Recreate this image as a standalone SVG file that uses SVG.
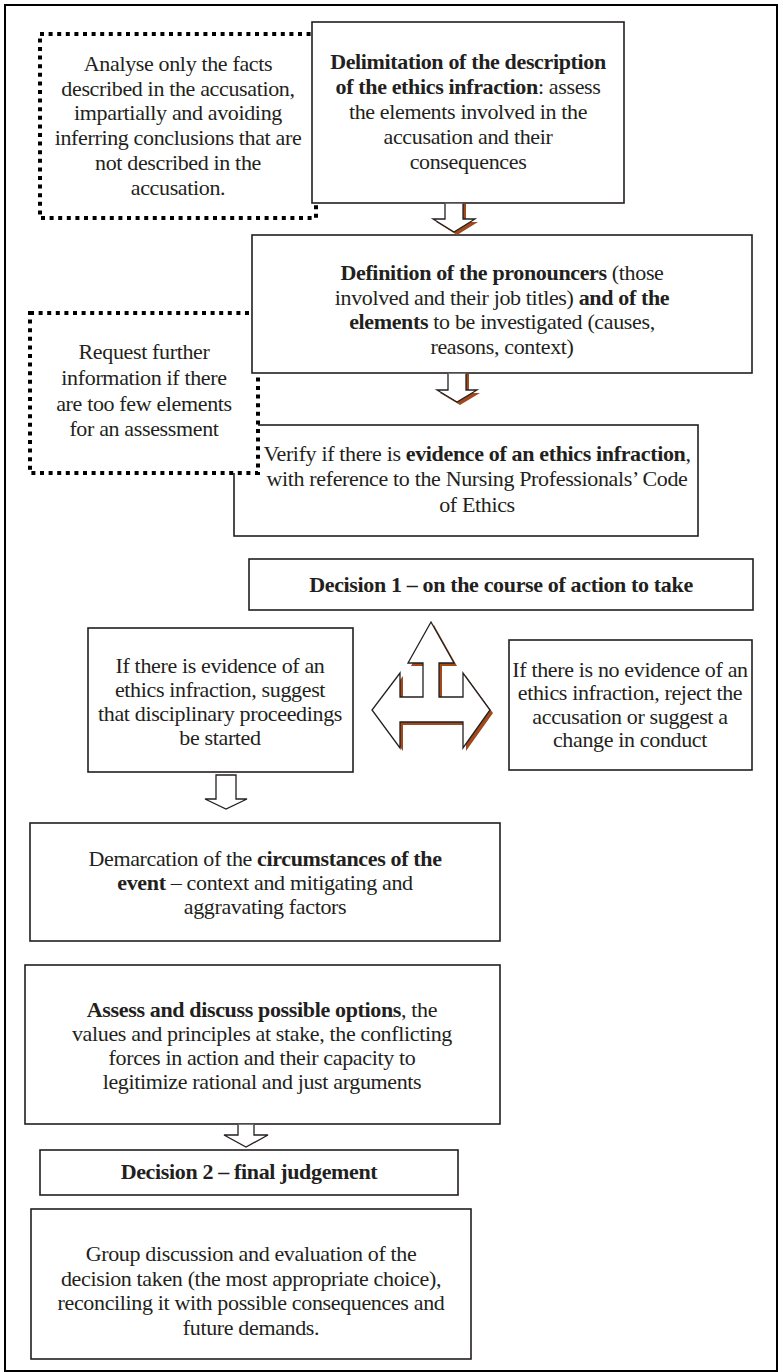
<svg xmlns="http://www.w3.org/2000/svg" width="783" height="1372" viewBox="0 0 783 1372">
<defs>
<style>
.box{fill:#fff;stroke:#231f20;stroke-width:1.6}
.dot{fill:#fff;stroke:#000;stroke-width:4;stroke-dasharray:4 4.6}
.t{font-family:"Liberation Serif","Times New Roman",serif;font-size:22px;letter-spacing:-0.35px;fill:#231f20;text-anchor:middle}
.b{font-weight:bold}
.arr{fill:#fff;stroke:#231f20;stroke-width:1.3;stroke-linejoin:miter}
.sh{fill:#a0491c}
</style>
</defs>
<rect x="0" y="0" width="783" height="1372" fill="#fff"/>
<rect id="frame" x="5" y="5" width="772" height="1366" fill="none" stroke="#000" stroke-width="2"/>

<g id="verify">
<rect class="box" x="234" y="425" width="464" height="111"/>
<text class="t" x="477" y="461">Verify if there is <tspan class="b">evidence of an ethics infraction</tspan>,</text>
<text class="t" x="477" y="486">with reference to the Nursing Professionals’ Code</text>
<text class="t" x="477" y="512">of Ethics</text>
</g>

<g id="request">
<rect class="dot" x="30" y="313" width="228" height="160"/>
<text class="t" x="144" y="359">Request further</text>
<text class="t" x="144" y="385">information if there</text>
<text class="t" x="144" y="411">are too few elements</text>
<text class="t" x="144" y="436">for an assessment</text>
</g>

<g id="definition">
<rect class="box" x="252" y="235" width="500" height="138"/>
<text class="t" x="502" y="280"><tspan class="b">Definition of the pronouncers</tspan> (those</text>
<text class="t" x="502" y="305">involved and their job titles) <tspan class="b">and of the</tspan></text>
<text class="t" x="502" y="329"><tspan class="b">elements</tspan> to be investigated (causes,</text>
<text class="t" x="502" y="354">reasons, context)</text>
</g>

<g id="analyse">
<rect class="dot" x="40" y="34" width="276" height="184"/>
<text class="t" x="178" y="71">Analyse only the facts</text>
<text class="t" x="178" y="96">described in the accusation,</text>
<text class="t" x="178" y="120">impartially and avoiding</text>
<text class="t" x="178" y="145">inferring conclusions that are</text>
<text class="t" x="178" y="170">not described in the</text>
<text class="t" x="178" y="195">accusation.</text>
</g>

<g id="delimitation">
<rect class="box" x="312" y="22" width="312" height="181"/>
<text class="t" x="468" y="69"><tspan class="b">Delimitation of the description</tspan></text>
<text class="t" x="468" y="94"><tspan class="b">of the ethics infraction</tspan>: assess</text>
<text class="t" x="468" y="119">the elements involved in the</text>
<text class="t" x="468" y="144">accusation and their</text>
<text class="t" x="468" y="169">consequences</text>
</g>

<g id="decision1">
<rect class="box" x="249" y="559" width="504" height="51"/>
<text class="t b" x="501" y="592">Decision 1 – on the course of action to take</text>
</g>

<g id="evidence-yes">
<rect class="box" x="88" y="628" width="265" height="144"/>
<text class="t" x="220" y="673">If there is evidence of an</text>
<text class="t" x="220" y="697">ethics infraction, suggest</text>
<text class="t" x="220" y="721">that disciplinary proceedings</text>
<text class="t" x="220" y="745">be started</text>
</g>

<g id="evidence-no">
<rect class="box" x="509" y="640" width="243" height="130"/>
<text class="t" x="630" y="677">If there is no evidence of an</text>
<text class="t" x="630" y="700">ethics infraction, reject the</text>
<text class="t" x="630" y="724">accusation or suggest a</text>
<text class="t" x="630" y="747">change in conduct</text>
</g>

<g id="demarcation">
<rect class="box" x="30" y="823" width="470" height="118"/>
<text class="t" x="265" y="866">Demarcation of the <tspan class="b">circumstances of the</tspan></text>
<text class="t" x="265" y="890"><tspan class="b">event</tspan> – context and mitigating and</text>
<text class="t" x="265" y="914">aggravating factors</text>
</g>

<g id="assess">
<rect class="box" x="25" y="965" width="475" height="159"/>
<text class="t" x="262" y="1017"><tspan class="b">Assess and discuss possible options</tspan>, the</text>
<text class="t" x="262" y="1041">values and principles at stake, the conflicting</text>
<text class="t" x="262" y="1065">forces in action and their capacity to</text>
<text class="t" x="262" y="1089">legitimize rational and just arguments</text>
</g>

<g id="decision2">
<rect class="box" x="40" y="1150" width="418" height="45"/>
<text class="t b" x="249" y="1179">Decision 2 – final judgement</text>
</g>

<g id="group">
<rect class="box" x="31" y="1209" width="440" height="150"/>
<text class="t" x="251" y="1261">Group discussion and evaluation of the</text>
<text class="t" x="251" y="1286">decision taken (the most appropriate choice),</text>
<text class="t" x="251" y="1310">reconciling it with possible consequences and</text>
<text class="t" x="251" y="1335">future demands.</text>
</g>

<g id="connectors">
<g id="arrow1">
<path class="sh" d="M448,204 V222 H436 L457,235 L478,222 H466 V204 Z"/>
<path class="arr" d="M445,203.8 V219 H433 L454,232 L475,219 H463 V203.8"/>
</g>
<g id="arrow2">
<path class="sh" d="M451,374 V393 H440 L460,405 L480,393 H469 V374 Z"/>
<path class="arr" d="M448,373.8 V390 H437 L457,402 L477,390 H466 V373.8"/>
</g>
<g id="arrow-split">
<path class="sh" transform="translate(3,3)" d="M431,622 L454,663 H439 V697 H463 V673 L490,710 L463,748 V722 H400 V748 L372,710 L400,673 V697 H423 V663 H408 Z"/>
<path class="arr" d="M431,622 L454,663 H439 V697 H463 V673 L490,710 L463,748 V722 H400 V748 L372,710 L400,673 V697 H423 V663 H408 Z"/>
</g>
<path id="arrow3" class="arr" d="M216,775 H236 V799 H247 L226,809 L205,799 H216 Z"/>
<path id="arrow4" class="arr" d="M238,1124.8 V1135 H224 L246,1147 L268,1135 H254 V1124.8"/>
</g>
</svg>
